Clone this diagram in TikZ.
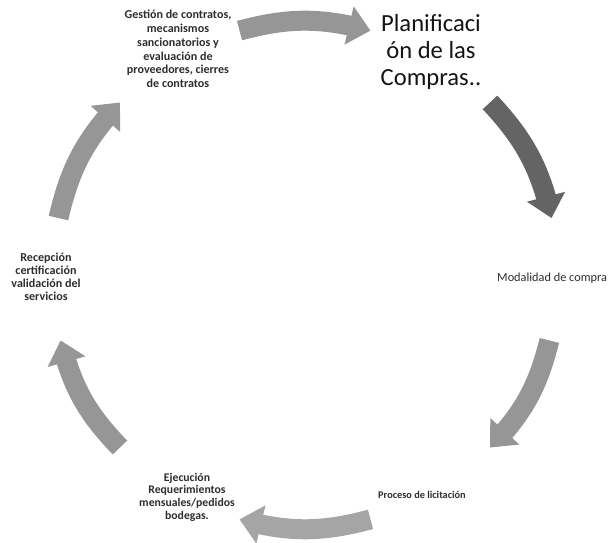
\documentclass[tikz,border=0pt]{standalone}
\usepackage{fontspec}
\setmainfont{Carlito}
\usetikzlibrary{arrows.meta,bending}
\definecolor{text_gray}{RGB}{45,45,45}
\definecolor{text_black}{RGB}{20,20,20}
\definecolor{arrow_gray}{RGB}{150,150,150}
\definecolor{arrow_dark}{RGB}{100,100,100}
\definecolor{arrow_light}{RGB}{165,165,165}

\begin{document}
\begin{tikzpicture}[x=0.03cm,y=0.03cm]
    \tikzstyle{lbl}=[align=center, text=text_gray, inner sep=0pt]
    \tikzstyle{cyc}=[line width=0.6cm, -{Triangle[width=1.14cm,length=0.66cm]}, bend left=15]
    \useasboundingbox (0,0) rectangle (612,543);

    \node[lbl, font=\bfseries\fontsize{10.3}{11.8}\selectfont] (gest) at (178,494) {Gestión de contratos,\\mecanismos\\sancionatorios y\\evaluación de\\proveedores, cierres\\de contratos};
    \node[lbl, text=text_black, font=\fontsize{21}{23.4}\selectfont] (plan) at (431,491) {Planificaci\\ón de las\\Compras..};
    \node[lbl, anchor=west, font=\fontsize{10.5}{12}\selectfont] (moda) at (497,265) {Modalidad de compra};
    \node[lbl, anchor=west, font=\bfseries\fontsize{8.8}{10}\selectfont] (proc) at (378,48) {Proceso de licitación};
    \node[lbl, font=\bfseries\fontsize{10}{10.8}\selectfont] (ejec) at (187,46) {Ejecución\\Requerimientos\\mensuales/pedidos\\bodegas.};
    \node[lbl, font=\bfseries\fontsize{10.3}{11}\selectfont] (rece) at (46,266) {Recepción\\certificación\\validación del\\servicios};

    \begin{scope}[shift={(305,268)}]
    \coordinate (g0) at (105:253);   \coordinate (p1) at (75:253);
    \coordinate (p0) at (43:253);    \coordinate (m1) at (13:253);
    \coordinate (m0) at (-15:253);   \coordinate (r1) at (-43:253);
    \coordinate (r0) at (-75:253);   \coordinate (e1) at (-105:253);
    \coordinate (e0) at (-137:253);  \coordinate (c1) at (-165:253);
    \coordinate (c0) at (167:253);   \coordinate (g1) at (137:253);
    \end{scope}

    \path
     (g0) edge[cyc, arrow_gray] (p1)
     (p0) edge[cyc, arrow_dark] (m1)
     (m0) edge[cyc, arrow_gray] (r1)
     (r0) edge[cyc, arrow_light] (e1)
     (e0) edge[cyc, arrow_gray] (c1)
     (c0) edge[cyc, arrow_gray] (g1)
     ;
\end{tikzpicture}
\end{document}
